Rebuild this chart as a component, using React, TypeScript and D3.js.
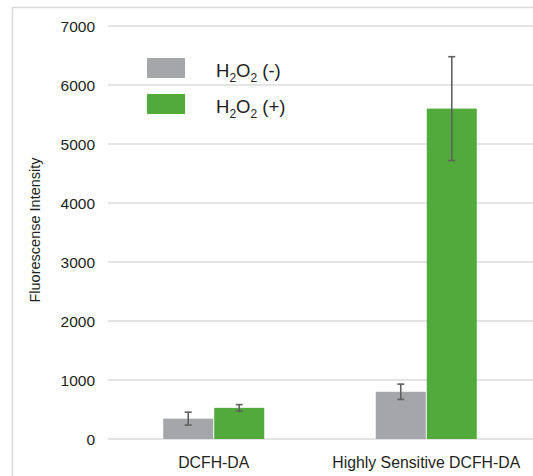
import * as React from 'react'
import { useEffect, useRef } from 'react'
import * as d3 from 'd3'

const categories = ['DCFH-DA', 'Highly Sensitive DCFH-DA']
const seriesNames = ['neg', 'pos']
const negValues = [345, 800]
const negErrors = [110, 130]
const posValues = [528, 5600]
const posErrors = [55, 880]
const yTicks = [0, 1000, 2000, 3000, 4000, 5000, 6000, 7000]

const width = 533
const height = 476
const colors = { neg: '#a5a6aa', pos: '#52a93c' }

const App = () => {
    const chartRef = useRef<SVGSVGElement>(null)

    useEffect((): void => {
        const svg = d3.select(chartRef.current)
        svg.selectAll('*').remove()

        const font = 'Arial, "Liberation Sans", sans-serif'

        // outer frame (cropped at right / bottom)
        svg.append('rect')
            .attr('x', 12.5).attr('y', 7.5)
            .attr('width', 600).attr('height', 600)
            .attr('fill', 'none')
            .attr('stroke', '#d9d9d9')
            .attr('stroke-width', 1.5)

        const left = 108
        const right = 533
        const yScale = d3.scaleLinear().domain([0, 7000]).range([439, 26])

        const xScale = d3.scaleBand()
            .domain(categories)
            .range([left, 532])
            .paddingInner(0.52)
            .paddingOuter(0.2575)

        const xInner = d3.scaleBand()
            .domain(seriesNames)
            .range([0, xScale.bandwidth()])

        // gridlines
        svg.append('g')
            .selectAll('line')
            .data(yTicks)
            .enter()
            .append('line')
            .attr('x1', left)
            .attr('x2', right)
            .attr('y1', d => yScale(d))
            .attr('y2', d => yScale(d))
            .attr('stroke', '#c9c9c9')
            .attr('stroke-width', 1.2)

        // y tick labels
        svg.append('g')
            .selectAll('text')
            .data(yTicks)
            .enter()
            .append('text')
            .attr('x', 95)
            .attr('y', d => yScale(d) + 5.5)
            .attr('text-anchor', 'end')
            .style('font-family', font)
            .style('font-size', '15.5px')
            .attr('fill', '#231f20')
            .text(d => d)

        const rows = categories.map((c, i) => ({
            cat: c,
            bars: [
                { key: 'neg', value: negValues[i], err: negErrors[i] },
                { key: 'pos', value: posValues[i], err: posErrors[i] }
            ]
        }))

        const groups = svg.append('g')
            .selectAll('g')
            .data(rows)
            .enter()
            .append('g')
            .attr('transform', d => `translate(${xScale(d.cat)}, 0)`)

        groups.selectAll('rect')
            .data(d => d.bars)
            .enter()
            .append('rect')
            .attr('x', d => xInner(d.key) + 0.5)
            .attr('y', d => yScale(d.value))
            .attr('width', xInner.bandwidth() - 1)
            .attr('height', d => yScale(0) - yScale(d.value))
            .attr('fill', d => colors[d.key])

        // error bars
        const err = groups.selectAll('g.err')
            .data(d => d.bars)
            .enter()
            .append('g')
            .attr('class', 'err')
            .attr('stroke', '#5f5f5f')
            .attr('stroke-width', 1.6)

        const cx = d => xInner(d.key) + xInner.bandwidth() / 2
        err.append('line')
            .attr('x1', cx).attr('x2', cx)
            .attr('y1', d => yScale(d.value + d.err))
            .attr('y2', d => yScale(d.value - d.err))
        err.append('line')
            .attr('x1', d => cx(d) - 3.5).attr('x2', d => cx(d) + 3.5)
            .attr('y1', d => yScale(d.value + d.err))
            .attr('y2', d => yScale(d.value + d.err))
        err.append('line')
            .attr('x1', d => cx(d) - 3.5).attr('x2', d => cx(d) + 3.5)
            .attr('y1', d => yScale(d.value - d.err))
            .attr('y2', d => yScale(d.value - d.err))

        // category labels
        svg.append('g')
            .selectAll('text')
            .data(categories)
            .enter()
            .append('text')
            .attr('x', d => xScale(d) + xScale.bandwidth() / 2)
            .attr('y', 468)
            .attr('text-anchor', 'middle')
            .style('font-family', font)
            .style('font-size', '15.8px')
            .attr('fill', '#231f20')
            .text(d => d)

        // y axis title
        svg.append('text')
            .attr('transform', 'translate(40, 230) rotate(-90)')
            .attr('text-anchor', 'middle')
            .style('font-family', font)
            .style('font-size', '14.5px')
            .attr('fill', '#231f20')
            .text('Fluorescense Intensity')

        // legend
        const legend = svg.append('g')
        const legendItems = [
            { key: 'neg', sign: '(-)' },
            { key: 'pos', sign: '(+)' }
        ]
        legendItems.forEach((item, i) => {
            const y = 58 + i * 36
            legend.append('rect')
                .attr('x', 147).attr('y', y)
                .attr('width', 38).attr('height', 20)
                .attr('fill', colors[item.key])
            const t = legend.append('text')
                .attr('x', 216)
                .attr('y', y + 19)
                .style('font-family', font)
                .style('font-size', '18.5px')
                .attr('fill', '#231f20')
            t.append('tspan').text('H')
            t.append('tspan').attr('dy', 5).style('font-size', '12px').text('2')
            t.append('tspan').attr('dy', -5).text('O')
            t.append('tspan').attr('dy', 5).style('font-size', '12px').text('2')
            t.append('tspan').attr('dy', -5).text(' ' + item.sign)
        })
    }, [])

    return (
        <svg ref={chartRef} width={width} height={height}
            style={{ position: 'absolute', left: 0, top: 0, background: '#fff' }}></svg>
    )
}

export default App
